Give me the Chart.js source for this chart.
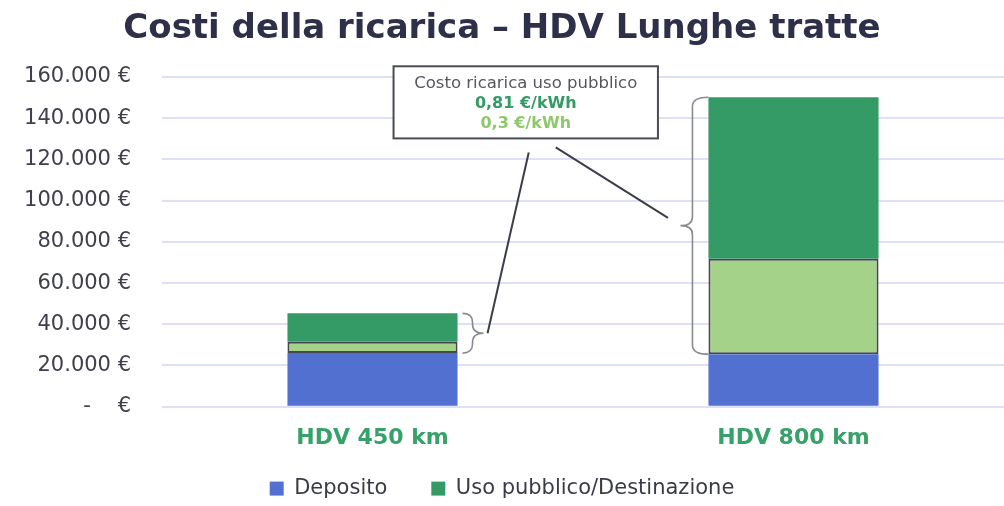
<!DOCTYPE html>
<html>
<head>
<meta charset="utf-8">
<script src="https://cdn.jsdelivr.net/npm/chart.js@4"></script>
<style>
  html, body { margin: 0; padding: 0; background: #fff; }
  #wrap { width: 1004px; height: 506px; }
</style>
</head>
<body>
<div id="wrap"><canvas id="chart"></canvas></div>
<script>
// ── dati ──
const CATEGORIE   = ['HDV 450 km', 'HDV 800 km'];
const DEPOSITO    = [26000, 25500];
const PUBBLICO_03 = [5500, 46300];   // 0,3 €/kWh
const PUBBLICO_81 = [13800, 78400];  // extra fino a 0,81 €/kWh
const Y_TICKS     = [0, 20000, 40000, 60000, 80000, 100000, 120000, 140000, 160000];
const BOX_RIGHE   = ['Costo ricarica uso pubblico', '0,81 €/kWh', '0,3 €/kWh'];

const FONT   = '"DejaVu Sans", "Open Sans", sans-serif';
const BLU    = '#5270cf';
const VERDE  = '#349a66';
const VERDE2 = '#a3d288';

const fmtEuro = (v) => v === 0 ? '-    €' : v.toString().replace(/\B(?=(\d{3})+(?!\d))/g, '.') + ' €';

// ── annotazione: riquadro, graffe e linee ──
const graffa = (ctx, xEdge, xMid, xTip, top, bot) => {
  const mid = (top + bot) / 2;
  const r = 9;
  ctx.beginPath();
  ctx.moveTo(xEdge, top);
  ctx.quadraticCurveTo(xMid, top, xMid, top + r);
  ctx.lineTo(xMid, mid - r);
  ctx.quadraticCurveTo(xMid, mid, xTip, mid);
  ctx.quadraticCurveTo(xMid, mid, xMid, mid + r);
  ctx.lineTo(xMid, bot - r);
  ctx.quadraticCurveTo(xMid, bot, xEdge, bot);
  ctx.stroke();
  return { x: xTip, y: mid };
};

const annotazione = {
  id: 'annotazione',
  afterLayout(chart) {
    // la legenda ha padding largo tra le voci: la riporto su verso l'asse
    chart.legend.top -= 17;
    chart.legend.bottom -= 17;
  },
  afterDatasetsDraw(chart) {
    const { ctx, scales: { x, y } } = chart;
    const b1 = chart.getDatasetMeta(0).data[0];
    const b2 = chart.getDatasetMeta(0).data[1];
    const top = (i) => y.getPixelForValue(DEPOSITO[i] + PUBBLICO_03[i] + PUBBLICO_81[i]);
    const bot = (i) => y.getPixelForValue(DEPOSITO[i]);

    ctx.save();
    ctx.strokeStyle = '#8a8a94';
    ctx.lineWidth = 1.6;
    const r1 = b1.x + b1.width / 2;
    const tip1 = graffa(ctx, r1 + 5, r1 + 15, r1 + 26, top(0), bot(0));
    const l2 = b2.x - b2.width / 2;
    const tip2 = graffa(ctx, l2, l2 - 16, l2 - 28, top(1), bot(1));

    // riquadro
    const bx0 = x.getPixelForValue(0.05), bx1 = x.getPixelForValue(0.678);
    const by0 = y.getPixelForValue(165200), by1 = y.getPixelForValue(130200);
    ctx.fillStyle = '#fff';
    ctx.fillRect(bx0, by0, bx1 - bx0, by1 - by0);
    ctx.strokeStyle = '#4a4b56';
    ctx.lineWidth = 2;
    ctx.strokeRect(bx0, by0, bx1 - bx0, by1 - by0);

    const cx = (bx0 + bx1) / 2;
    ctx.textAlign = 'center';
    ctx.textBaseline = 'middle';
    ctx.font = '16.5px ' + FONT;
    ctx.fillStyle = '#55565f';
    ctx.fillText(BOX_RIGHE[0], cx, by0 + 17);
    ctx.font = 'bold 16px ' + FONT;
    ctx.fillStyle = VERDE;
    ctx.fillText(BOX_RIGHE[1], cx, by0 + 38);
    ctx.fillStyle = '#8dc96c';
    ctx.fillText(BOX_RIGHE[2], cx, by0 + 58);

    // linee di collegamento
    ctx.strokeStyle = '#3b3d4b';
    ctx.lineWidth = 2;
    ctx.beginPath();
    ctx.moveTo(cx + 3, by1 + 14);
    ctx.lineTo(tip1.x + 4, tip1.y);
    ctx.stroke();
    const sx = cx + 30, sy = by1 + 9;
    ctx.beginPath();
    ctx.moveTo(sx, sy);
    ctx.lineTo(sx + (tip2.x - sx) * 0.9, sy + (tip2.y - sy) * 0.9);
    ctx.stroke();
    ctx.restore();
  }
};

new Chart(document.getElementById('chart'), {
  type: 'bar',
  data: {
    labels: CATEGORIE,
    datasets: [
      { label: 'Deposito', data: DEPOSITO, backgroundColor: BLU, borderWidth: 0 },
      { label: '0,3 €/kWh', data: PUBBLICO_03, backgroundColor: VERDE2,
        borderColor: '#45464f', borderWidth: 2, borderSkipped: false },
      { label: 'Uso pubblico/Destinazione', data: PUBBLICO_81, backgroundColor: VERDE, borderWidth: 0 },
    ]
  },
  options: {
    responsive: true,
    maintainAspectRatio: false,
    animation: false,
    datasets: { bar: { categoryPercentage: 1, barPercentage: 0.404 } },
    layout: { padding: { top: 6, left: 0, right: 0, bottom: -20.1 } },
    plugins: {
      title: {
        display: true,
        text: 'Costi della ricarica – HDV Lunghe tratte',
        color: '#2e3049',
        font: { family: FONT, size: 34, weight: 'bold' },
        padding: { top: 3, bottom: 27.2 }
      },
      legend: {
        position: 'bottom',
        labels: {
          color: '#3a3b48',
          font: { family: FONT, size: 21 },
          boxWidth: 14, boxHeight: 14, padding: 44,
          filter: (item) => item.datasetIndex !== 1
        }
      },
      tooltip: { enabled: false }
    },
    scales: {
      x: {
        stacked: true,
        afterFit: (s) => { s.height = 44.4; },
        grid: { display: false, drawTicks: false },
        border: { display: false },
        ticks: { color: '#36a168', font: { family: FONT, size: 22, weight: 'bold' }, padding: 18 }
      },
      y: {
        stacked: true,
        min: 0, max: 160000,
        afterFit: (s) => { s.width = 162; },
        afterBuildTicks: (s) => { s.ticks = Y_TICKS.map(v => ({ value: v })); },
        grid: { color: '#dde0f8', lineWidth: 2, drawTicks: false },
        border: { display: false },
        ticks: { color: '#3f404c', font: { family: FONT, size: 21 }, padding: 31, callback: fmtEuro }
      }
    }
  },
  plugins: [annotazione]
});
</script>
</body>
</html>
